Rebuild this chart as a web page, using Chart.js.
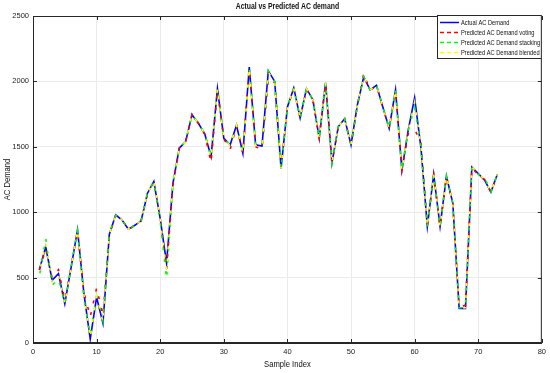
<!DOCTYPE html>
<html>
<head>
<meta charset="utf-8">
<script src="https://cdn.jsdelivr.net/npm/chart.js@4.4.1/dist/chart.umd.min.js"></script>
<style>
    html, body { margin: 0; padding: 0; background: #fff; }
    #demand_chart { display: block; }
</style>
</head>
<body>
<canvas id="demand_chart" width="550" height="373"></canvas>
<script>
// sample index 1..73
let sampleIndex = Array.from({length: 73}, (v, i) => i + 1)

let actualDemand = [560, 735, 480, 530, 300, 580, 865, 380, 30, 350,
    150, 830, 980, 940, 870, 900, 935, 1145, 1235, 950,
    610, 1220, 1490, 1540, 1745, 1680, 1600, 1425, 1945, 1565,
    1515, 1665, 1450, 2110, 1515, 1505, 2080, 2000, 1335, 1805,
    1950, 1720, 1945, 1860, 1565, 1990, 1375, 1655, 1715, 1515,
    1820, 2035, 1935, 1970, 1805, 1640, 1935, 1320, 1630, 1875,
    1490, 890, 1290, 890, 1275, 1070, 265, 265, 1345, 1295,
    1245, 1155, 1290]

let votingDemand = [560, 720, 500, 560, 330, 590, 860, 390, 200, 420,
    210, 820, 975, 945, 865, 900, 935, 1140, 1235, 940,
    560, 1210, 1490, 1540, 1750, 1680, 1595, 1380, 1940, 1560,
    1480, 1660, 1450, 2100, 1500, 1480, 2020, 1990, 1340, 1800,
    1945, 1720, 1940, 1860, 1570, 1985, 1380, 1650, 1710, 1515,
    1815, 2060, 1930, 1970, 1800, 1640, 1930, 1325, 1600, 1630,
    1540, 895, 1285, 890, 1270, 1065, 275, 290, 1340, 1285,
    1250, 1150, 1290]

let stackingDemand = [510, 800, 440, 490, 300, 590, 860, 340, 60, 360,
    170, 840, 975, 940, 870, 900, 935, 1150, 1235, 930,
    490, 1225, 1490, 1540, 1745, 1680, 1600, 1420, 1950, 1560,
    1515, 1665, 1450, 2110, 1515, 1505, 2080, 2000, 1330, 1805,
    1950, 1720, 1945, 1860, 1565, 1990, 1375, 1660, 1715, 1515,
    1820, 2035, 1935, 1970, 1805, 1640, 1935, 1320, 1630, 1800,
    1500, 890, 1290, 890, 1275, 1070, 270, 270, 1345, 1290,
    1265, 1155, 1290]

let blendedDemand = [540, 760, 470, 520, 300, 585, 865, 370, 40, 360,
    160, 830, 980, 940, 870, 900, 935, 1145, 1235, 945,
    560, 1220, 1490, 1540, 1745, 1680, 1600, 1415, 1945, 1565,
    1510, 1665, 1450, 2105, 1510, 1500, 2070, 2000, 1335, 1805,
    1950, 1720, 1945, 1860, 1565, 1990, 1375, 1655, 1715, 1515,
    1820, 2040, 1935, 1970, 1805, 1640, 1935, 1320, 1625, 1840,
    1510, 890, 1290, 890, 1275, 1070, 265, 270, 1345, 1295,
    1250, 1155, 1290]

let xTicks = [0, 10, 20, 30, 40, 50, 60, 70, 80]
let yTicks = [0, 500, 1000, 1500, 2000, 2500]

let chartTitle = 'Actual vs Predicted AC demand'
let xTitle = 'Sample Index'
let yTitle = 'AC Demand'

const FONT = "'Liberation Sans', Arial, sans-serif"
const AXIS_COLOR = '#262626'

// text squeezed a bit, the matlab export looks narrow
function narrowText(ctx, text, x, y, squeeze) {
    let w = ctx.measureText(text).width
    ctx.fillText(text, x, y, w * squeeze)
}

// matlab style box, inner ticks, titles and legend
const matlabBox = {
    id: 'matlabBox',
    afterDraw(chart) {
        let ctx = chart.ctx
        let a = chart.chartArea
        let xs = chart.scales.x
        let ys = chart.scales.y
        ctx.save()
        ctx.strokeStyle = AXIS_COLOR
        ctx.lineWidth = 1
        ctx.strokeRect(a.left + 0.5, a.top + 0.5, a.right - a.left - 1, a.bottom - a.top - 1)
        ctx.beginPath()
        xTicks.forEach(function (t) {
            let px = Math.round(xs.getPixelForValue(t)) + 0.5
            ctx.moveTo(px, a.bottom); ctx.lineTo(px, a.bottom - 4)
            ctx.moveTo(px, a.top); ctx.lineTo(px, a.top + 4)
        })
        yTicks.forEach(function (t) {
            let py = Math.round(ys.getPixelForValue(t)) + 0.5
            ctx.moveTo(a.left, py); ctx.lineTo(a.left + 4, py)
            ctx.moveTo(a.right, py); ctx.lineTo(a.right - 4, py)
        })
        ctx.stroke()

        // titles
        ctx.fillStyle = '#111'
        ctx.textAlign = 'center'
        ctx.textBaseline = 'middle'
        ctx.font = 'bold 9px ' + FONT
        narrowText(ctx, chartTitle, (a.left + a.right) / 2, 7, 0.76)
        ctx.font = '9px ' + FONT
        narrowText(ctx, xTitle, (a.left + a.right) / 2, 365, 0.85)
        ctx.save()
        ctx.translate(8, (a.top + a.bottom) / 2)
        ctx.rotate(-Math.PI / 2)
        narrowText(ctx, yTitle, 0, 0, 0.85)
        ctx.restore()

        // legend box top right
        let bx = 437, by = a.top - 1, bw = a.right - 437, bh = 44
        ctx.fillStyle = '#fff'
        ctx.fillRect(bx, by, bw, bh)
        ctx.strokeStyle = AXIS_COLOR
        ctx.strokeRect(bx + 0.5, by + 0.5, bw - 1, bh - 1)
        ctx.font = '7.5px ' + FONT
        ctx.textAlign = 'left'
        chart.data.datasets.forEach(function (ds, i) {
            let ly = by + 7.5 + i * 10
            ctx.beginPath()
            ctx.strokeStyle = ds.borderColor
            ctx.lineWidth = 1.5
            ctx.setLineDash(ds.borderDash ? [4, 3] : [])
            ctx.moveTo(bx + 3, ly)
            ctx.lineTo(bx + 22, ly)
            ctx.stroke()
            ctx.setLineDash([])
            ctx.fillStyle = '#111'
            narrowText(ctx, ds.label, bx + 24, ly, 0.76)
        })
        ctx.restore()
    }
}

let ctx = document.getElementById('demand_chart')
let demandChart = new Chart(ctx, {
    type: 'line',
    data: {
        labels: sampleIndex,
        datasets: [{
                label: 'Actual AC Demand',
                data: actualDemand,
                borderColor: '#0000ff',
                borderWidth: 1.6,
                order: 4
            },
            {
                label: 'Predicted AC Demand voting',
                data: votingDemand,
                borderColor: '#ff0000',
                borderWidth: 1.6,
                borderDash: [3, 9],
                borderDashOffset: 0,
                order: 3
            },
            {
                label: 'Predicted AC Demand stacking',
                data: stackingDemand,
                borderColor: '#00ff00',
                borderWidth: 1.6,
                borderDash: [3, 9],
                borderDashOffset: -3,
                order: 2
            },
            {
                label: 'Predicted AC Demand blended',
                data: blendedDemand,
                borderColor: '#ffff00',
                borderWidth: 1.6,
                borderDash: [3, 9],
                borderDashOffset: -6,
                order: 1
            }
        ]
    },
    options: {
        responsive: false,
        animation: false,
        devicePixelRatio: 1,
        elements: {
            point: { radius: 0 },
            line: { tension: 0, fill: false }
        },
        layout: {
            padding: { top: 16, right: 7, left: 0, bottom: 0 }
        },
        plugins: {
            legend: { display: false },
            tooltip: { enabled: false },
            title: { display: false }
        },
        scales: {
            x: {
                type: 'linear',
                min: 0,
                max: 80,
                afterBuildTicks: function (scale) {
                    scale.ticks = xTicks.map(v => ({ value: v }))
                },
                afterFit: function (scale) { scale.height = 30 },
                ticks: {
                    color: '#222',
                    padding: 4,
                    maxRotation: 0,
                    font: { family: FONT, size: 7.5 },
                    callback: function (v) { return String(v) }
                },
                grid: { color: '#ebebeb', drawTicks: false },
                border: { color: AXIS_COLOR }
            },
            y: {
                min: 0,
                max: 2500,
                afterBuildTicks: function (scale) {
                    scale.ticks = yTicks.map(v => ({ value: v }))
                },
                afterFit: function (scale) { scale.width = 33 },
                ticks: {
                    color: '#222',
                    padding: 4,
                    font: { family: FONT, size: 7.5 },
                    callback: function (v) { return String(v) }
                },
                grid: { color: '#ebebeb', drawTicks: false },
                border: { color: AXIS_COLOR }
            }
        }
    },
    plugins: [matlabBox]
})
</script>
</body>
</html>
